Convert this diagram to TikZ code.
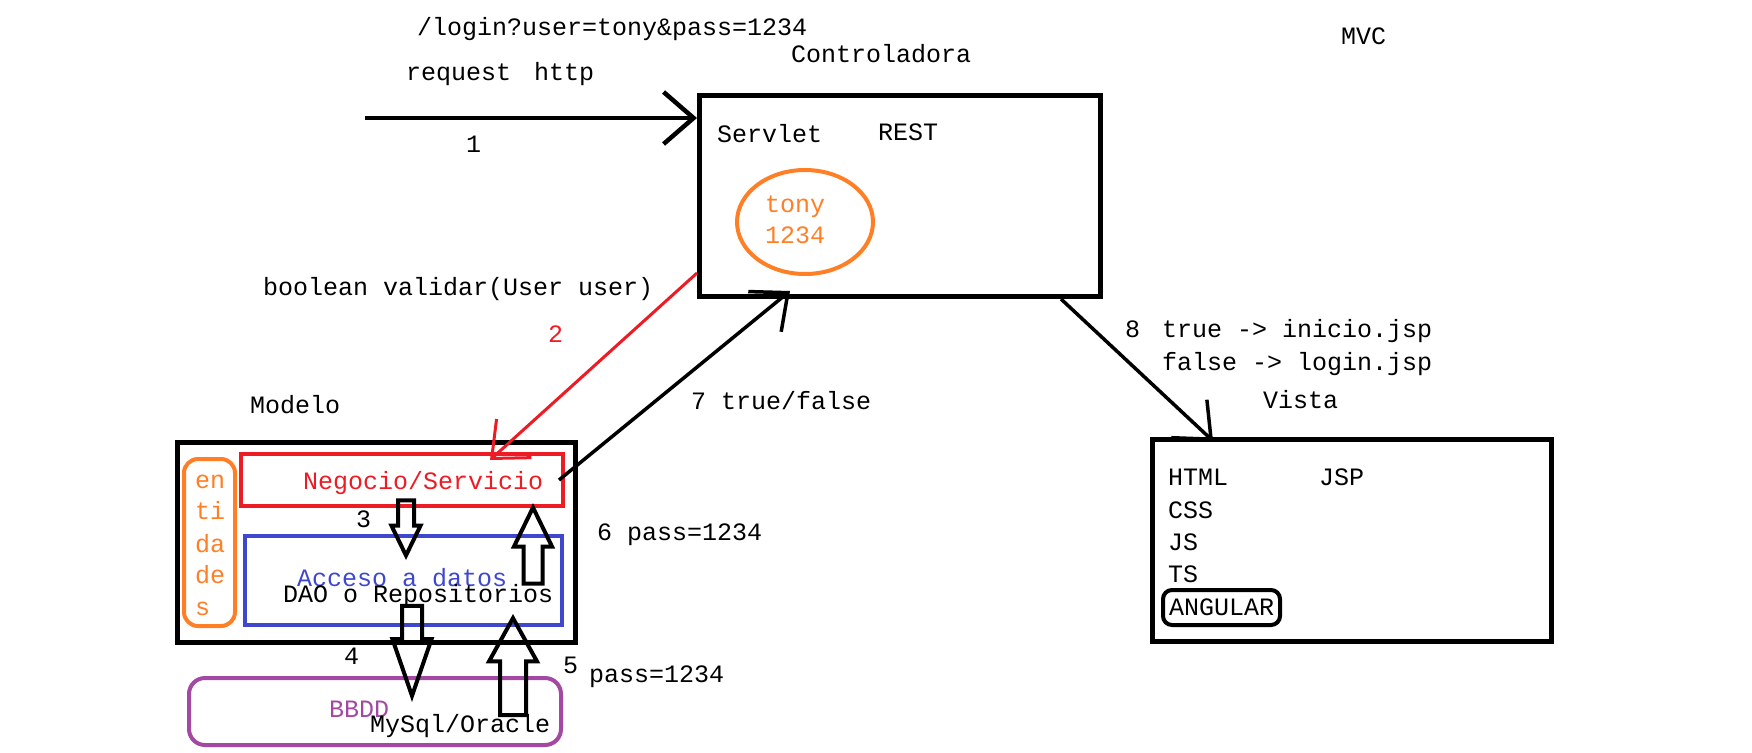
\documentclass[tikz,border=0pt]{standalone}
\usepackage{fontspec}
\setmainfont{Liberation Mono}
\usetikzlibrary{arrows.meta,shapes.geometric,shapes.arrows}

\definecolor{pred}{RGB}{237,28,36}
\definecolor{pblue}{RGB}{63,72,204}
\definecolor{porange}{RGB}{255,127,39}
\definecolor{ppurple}{RGB}{163,73,164}

\tikzset{
  barb/.style={-{Straight Barb[length=30pt,width=52pt]}},
  hueca/.style={draw, line width=4pt, single arrow,
    single arrow head indent=0pt, anchor=tip},
}

\begin{document}
\begin{tikzpicture}[x=1pt,y=-1pt]
\useasboundingbox (0,0) rectangle (1752,752);

% cajas
\begin{scope}[every node/.style={draw, line width=5pt, inner sep=0pt}]
  \node (ctrl)  at (900,196)     [minimum width=401, minimum height=201] {};
  \node (mod)   at (376.5,542.5) [minimum width=398, minimum height=200] {};
  \node (vista) at (1352,540.5)  [minimum width=399, minimum height=202] {};
\end{scope}

\begin{scope}[every node/.style={draw, line width=4pt, inner sep=0pt}]
  \node (ent)  at (209.5,542.5) [porange, rounded corners=14, minimum width=51, minimum height=167] {};
  \node (neg)  at (402,480)     [pred, minimum width=322, minimum height=52] {};
  \node (acc)  at (403.5,580.5) [pblue, minimum width=317, minimum height=89] {};
  \node (bbdd) at (375,711.5)   [ppurple, rounded corners=16, minimum width=372, minimum height=67] {};
  \node (user) at (805,222)     [porange, ellipse, minimum width=136, minimum height=104] {};
  \node (ang)  at (1221.5,607.5) [rounded corners=9, minimum width=117, minimum height=35,
    font=\fontsize{25}{30}\selectfont] {ANGULAR};
\end{scope}

% textos
\begin{scope}[every node/.style={anchor=base west, inner sep=0pt, font=\fontsize{25}{30}\selectfont}]
  \node (url)     at (417,36)   {/login?user=tony\&pass=1234};
  \node (ctrltit) at (791,63)   {Controladora};
  \node (req)     at (406,80)   {request\hspace{23pt}http};
  \node (mvc)     at (1341,45)  {MVC};
  \node (n1)      at (466,152)  {1};
  \node (servlet) at (717,142)  {Servlet};
  \node (rest)    at (878,140)  {REST};
  \node (tony)    at (765,212)  [porange] {tony};
  \node (pin)     at (765,243)  [porange] {1234};
  \node (validar) at (263,295)  {boolean validar(User user)};
  \node (n2)      at (548,342)  [pred] {2};
  \node (modtit)  at (250,413)  {Modelo};
  \node (n7)      at (691,409)  {7 true/false};
  \node (n8)      at (1125,337) {8};
  \node (res1)    at (1162,337) {true -> inicio.jsp};
  \node (res2)    at (1162,370) {false -> login.jsp};
  \node (vistatit) at (1263,408) {Vista};
  \node (html)    at (1168,485) {HTML};
  \node (jsp)     at (1319,485) {JSP};
  \node (css)     at (1168,518) {CSS};
  \node (js)      at (1168,550) {JS};
  \node (ts)      at (1168,582) {TS};
  \node (e1)      at (195,488)  [porange] {en};
  \node (e2)      at (195,519)  [porange] {ti};
  \node (e3)      at (195,552)  [porange] {da};
  \node (e4)      at (195,583)  [porange] {de};
  \node (e5)      at (195,615)  [porange] {s};
  \node (negtxt)  at (303,489)  [pred] {Negocio/Servicio};
  \node (acctxt)  at (297,586)  [pblue] {Acceso a datos};
  \node (dao)     at (283,602)  {DAO o Repositorios};
  \node (n3)      at (356,527)  {3};
  \node (n4)      at (344,664)  {4};
  \node (n5)      at (563,673)  {5};
  \node (pass5)   at (589,682)  {pass=1234};
  \node (n6)      at (597,540)  {6 pass=1234};
  \node (bbddtxt) at (329,717)  [ppurple] {BBDD};
  \node (mysql)   at (370,732)  {MySql/Oracle};
\end{scope}

% flechas huecas
\begin{scope}[every node/.style={hueca}]
  \node (f3) at (406,560) [shape border rotate=270, minimum height=55, inner sep=6,
    single arrow head extend=6.5, single arrow tip angle=52] {};
  \node (f6) at (533,503) [shape border rotate=90, minimum height=76, inner sep=7.5,
    single arrow head extend=9.5, single arrow tip angle=52] {};
  \node (f4) at (412,702) [shape border rotate=270, minimum height=90, inner sep=8,
    single arrow head extend=9.5, single arrow tip angle=38] {};
  \node (f5) at (513,614) [shape border rotate=90, minimum height=97, inner sep=11,
    single arrow head extend=11, single arrow tip angle=58] {};
\end{scope}

% conectores
\coordinate (ini) at (365,118);
\begin{scope}[every edge/.style={draw, barb}]
  \path (ini) edge[line width=4.5pt] (ctrl.west |- ini);
  \path ([yshift=26pt]ctrl.south west) edge[pred, line width=3pt] ([xshift=88pt,yshift=-8pt]neg.north);
  \path ([xshift=-6pt]neg.east) edge[line width=3.5pt] ([xshift=-110pt,yshift=8pt]ctrl.south);
  \path ([xshift=-42pt]ctrl.south east) edge[line width=3.5pt] ([xshift=63pt,yshift=-4pt]vista.north west);
\end{scope}

\end{tikzpicture}
\end{document}
